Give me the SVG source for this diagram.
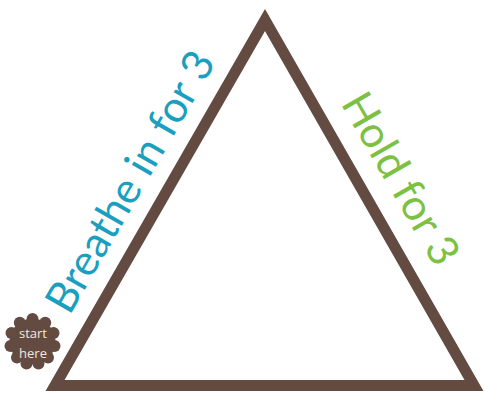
<svg xmlns="http://www.w3.org/2000/svg" width="484" height="397" viewBox="0 0 484 397">
<style>
.tri{fill:none;stroke:#634b42;stroke-width:11;stroke-linejoin:miter;stroke-miterlimit:10}
.lbl{font-family:Lato,"Open Sans",sans-serif;font-size:43px;text-anchor:middle}
.badge{fill:#634b42}
.bt{font-family:"Open Sans","Noto Sans",sans-serif;font-size:13px;fill:#f3e6df;text-anchor:middle}
</style>
<rect width="484" height="397" fill="#ffffff"/>
<g id="triangle">
<polygon class="tri" points="55,385.5 265,20 474,385.5"/>
</g>
<g id="connectors"></g>
<g id="breathe">
<text class="lbl" fill="#1a9fc0" transform="translate(143,189) rotate(-60)">Breathe in for 3</text>
</g>
<g id="hold">
<text class="lbl" fill="#7cc142" transform="translate(388,186) rotate(60)">Hold for 3</text>
</g>
<g id="start">
<circle class="badge" cx="32.5" cy="341.5" r="23"/>
<g class="badge">
<circle cx="32.5" cy="319" r="6"/>
<circle cx="45.2" cy="322.8" r="6"/>
<circle cx="53.5" cy="333" r="6"/>
<circle cx="54.5" cy="346" r="6"/>
<circle cx="48" cy="357.5" r="6"/>
<circle cx="38.5" cy="363.5" r="6"/>
<circle cx="26.5" cy="363.5" r="6"/>
<circle cx="17" cy="357.5" r="6"/>
<circle cx="10.5" cy="346" r="6"/>
<circle cx="11.5" cy="333" r="6"/>
<circle cx="19.8" cy="322.8" r="6"/>
</g>
<text class="bt" x="33" y="338">start</text>
<text class="bt" x="33" y="358">here</text>
</g>
</svg>
